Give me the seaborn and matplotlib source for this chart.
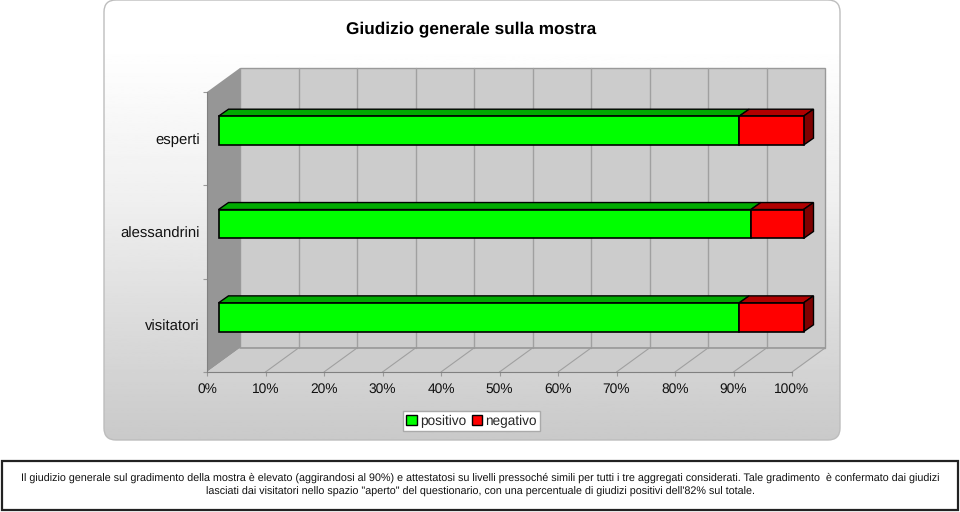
import numpy as np
import seaborn as sns
import matplotlib.pyplot as plt
from matplotlib.patches import FancyBboxPatch, Patch, Polygon, Rectangle
from matplotlib.transforms import Affine2D

# Data
categorie = ["esperti", "alessandrini", "visitatori"]
positivo = [89, 91, 89]
negativo = [11, 9, 11]
x_ticks = [0, 10, 20, 30, 40, 50, 60, 70, 80, 90, 100]
x_labels = ["0%", "10%", "20%", "30%", "40%", "50%", "60%", "70%", "80%", "90%", "100%"]
titolo = "Giudizio generale sulla mostra"
nota = [
    "Il giudizio generale sul gradimento della mostra è elevato (aggirandosi al 90%) e attestatosi su livelli "
    "pressoché simili per tutti i tre aggregati considerati. Tale gradimento  è confermato dai giudizi",
    "lasciati dai visitatori nello spazio \"aperto\" del questionario, con una percentuale di giudizi "
    "positivi dell'82% sul totale.",
]

sns.set_theme(style="white")
plt.rcParams["font.family"] = ["Liberation Sans", "DejaVu Sans"]
plt.rcParams["text.hinting"] = "no_hinting"

W, H = 960, 512
fig = plt.figure(figsize=(W / 100, H / 100), dpi=100, facecolor="white")

# Background layer in pixel coords: panel and note box
bg = fig.add_axes([0, 0, 1, 1], zorder=0)
bg.set_xlim(0, W)
bg.set_ylim(H, 0)
bg.axis("off")

panel = FancyBboxPatch((112, 8), 720, 424, boxstyle="round,pad=8,rounding_size=12",
                       facecolor="none", edgecolor="#bdbdbd", linewidth=1)
bg.add_patch(panel)
grad = np.interp(np.linspace(0, 1, 256), [0, 0.1, 0.45, 0.7, 1], [1.0, 1.0, 0.94, 0.87, 0.79]).reshape(-1, 1)
im = bg.imshow(grad, cmap="gray", vmin=0, vmax=1, extent=[104, 840, 440, 0], aspect="auto", zorder=0)
im.set_clip_path(panel)
bg.set_xlim(0, W)
bg.set_ylim(H, 0)

bg.add_patch(Rectangle((1.5, 460.5), 956, 49.5, facecolor="white", edgecolor="#222222", linewidth=1.6))
bg.text(480, 477.5, nota[0], ha="center", va="center", fontsize=7.76, color="#111111")
bg.text(480, 491.5, nota[1], ha="center", va="center", fontsize=7.76, color="#111111")
bg.text(471.5, 29, titolo, ha="center", va="center", fontsize=12.4, fontweight="bold", color="black")

# Main axes = front plane of the 3D box
left, right, top, bottom = 207, 792, 92, 372
ax = fig.add_axes([left / W, 1 - bottom / H, (right - left) / W, (bottom - top) / H], zorder=2)
ax.patch.set_alpha(0)

sns.barplot(x=positivo, y=categorie, color="#00ff00", saturation=1, width=0.31,
            edgecolor="black", linewidth=1.2, ax=ax, zorder=5)
sns.barplot(x=negativo, y=categorie, left=positivo, color="#ff0000", saturation=1, width=0.31,
            edgecolor="black", linewidth=1.2, ax=ax, zorder=5)

ax.set_xlim(0, 100)
ax.set_ylim(2.5, -0.5)
ax.set_xlabel("")
ax.set_ylabel("")

# Ticks: marks on the band edges, labels in the band middle
ax.set_xticks(x_ticks)
ax.set_xticklabels(x_labels, fontsize=9.9, color="#111111")
ax.set_yticks([-0.5, 0.5, 1.5, 2.5])
ax.set_yticklabels([])
ax.set_yticks([0, 1, 2], minor=True)
ax.set_yticklabels(categorie, minor=True, fontsize=10.7, color="#111111")
ax.tick_params(axis="y", which="minor", length=0, pad=5)
ax.tick_params(axis="y", which="major", length=3, width=0.8, color="#999999", left=True)
ax.tick_params(axis="x", length=3, width=0.8, color="#999999", bottom=True, pad=4.5)
sns.despine(ax=ax, top=True, right=True)
ax.spines["left"].set_color("#808080")
ax.spines["bottom"].set_color("#808080")
ax.spines["left"].set_linewidth(0.8)
ax.spines["bottom"].set_linewidth(0.8)

fig.canvas.draw()
to_px = ax.transData


def shifted(dx, dy):
    # display pixels, y up
    return to_px + Affine2D().translate(dx, dy)


# Walls and floor of the box, behind the bars
DX, DY = 33, 24
back_tr = shifted(DX, DY)
wall_grey = "#cccccc"
ax.add_patch(Polygon([(0, 2.5), (100, 2.5), (100, -0.5), (0, -0.5)], closed=True, transform=back_tr,
                     facecolor=wall_grey, edgecolor="#999999", linewidth=1, zorder=0.5, clip_on=False))
p0 = to_px.transform([(0, -0.5), (0, 2.5)])
p1 = p0 + np.array([DX, DY])
ax.add_patch(Polygon([p0[0], p1[0], p1[1], p0[1]], closed=True, transform=None,
                     facecolor="#969696", edgecolor="none", zorder=0.6, clip_on=False))
f0 = to_px.transform([(0, 2.5), (100, 2.5)])
ax.add_patch(Polygon([f0[0], f0[1], f0[1] + [DX, DY], f0[0] + [DX, DY]], closed=True, transform=None,
                     facecolor="#cdcdcd", edgecolor="none", zorder=0.6, clip_on=False))
for t in x_ticks[1:]:
    if t < 100:
        ax.plot([t, t], [-0.5, 2.5], transform=back_tr, color="#a0a0a0", lw=1, zorder=0.7, clip_on=False)
    q = to_px.transform((t, 2.5))
    ax.plot([q[0], q[0] + DX], [q[1], q[1] + DY], transform=None, color="#a0a0a0", lw=0.8,
            zorder=0.7, clip_on=False)
ax.plot([0, 100], [2.5, 2.5], transform=back_tr, color="#999999", lw=1.2, zorder=0.8, clip_on=False)

# Bars sit a little inside the box; add the top and side faces
OX, OY = 11.5, 8
BX, BY = 10, 7
bar_tr = shifted(OX, OY)
for bar in ax.patches:
    if not isinstance(bar, Rectangle) or bar.get_zorder() != 5:
        continue
    bar.set_transform(bar_tr)
    bar.set_clip_on(False)
    x0, x1 = bar.get_x(), bar.get_x() + bar.get_width()
    y_hi, y_lo = sorted([bar.get_y(), bar.get_y() + bar.get_height()])
    a, b, c = bar_tr.transform([(x0, y_hi), (x1, y_hi), (x1, y_lo)])
    green = bar.get_facecolor()[1] > 0.5
    ax.add_patch(Polygon([a, b, b + [BX, BY], a + [BX, BY]], closed=True, transform=None,
                         facecolor="#00aa00" if green else "#b00000", edgecolor="black",
                         linewidth=1, zorder=4, clip_on=False))
    if not green:
        ax.add_patch(Polygon([b, c, c + [BX, BY], b + [BX, BY]], closed=True, transform=None,
                             facecolor="#7f0000", edgecolor="black", linewidth=1, zorder=4, clip_on=False))

handles = [Patch(facecolor="#00ff00", edgecolor="black", label="positivo"),
           Patch(facecolor="#ff0000", edgecolor="black", label="negativo")]
fig.legend(handles=handles, loc="center", bbox_to_anchor=(471.5 / W, 1 - 421 / H), ncol=2,
           fontsize=9.8, frameon=True, fancybox=False, framealpha=1, facecolor="white",
           edgecolor="#aaaaaa", handlelength=0.75, handleheight=0.75, handletextpad=0.25,
           columnspacing=0.4, borderpad=0.25, borderaxespad=0)

fig.savefig("out.png", dpi=100)
